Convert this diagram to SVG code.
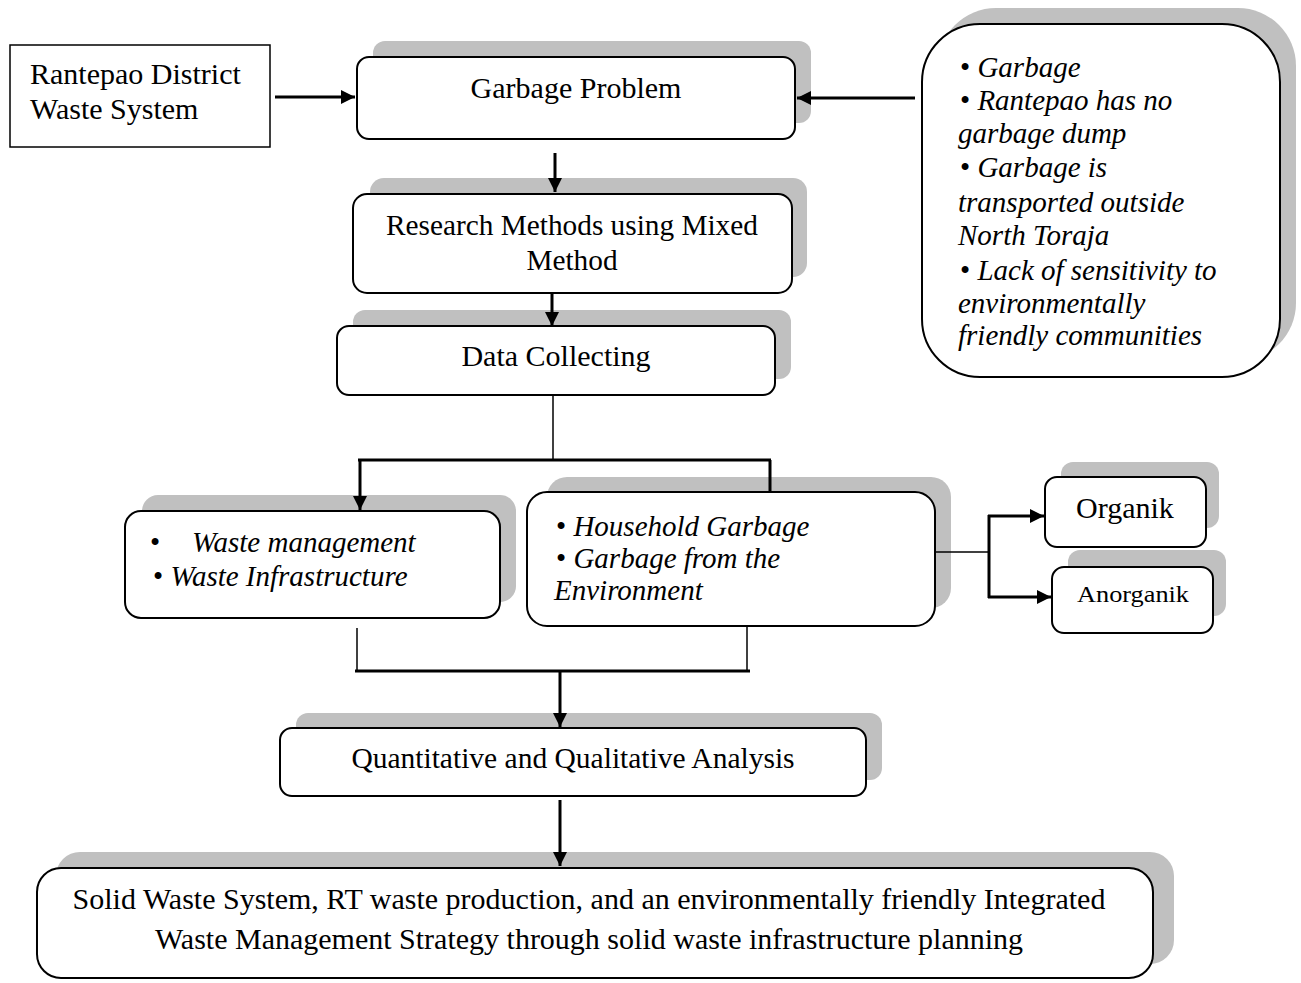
<svg xmlns="http://www.w3.org/2000/svg" width="1301" height="983" viewBox="0 0 1301 983">
<style>
  .sh { fill: #c0c0c0; stroke: none; }
  .bx { fill: #ffffff; stroke: #000000; stroke-width: 2; }
  .t { font-family: "Liberation Serif", "Times New Roman", serif; font-size: 30px; fill: #000; }
  .s29 { font-size: 29px; }
  .i { font-style: italic; }
  .c { text-anchor: middle; }
  .ln { stroke: #000; stroke-width: 3; fill: none; }
  .thin { stroke: #000; stroke-width: 1.5; fill: none; }
</style>
<defs>
  <marker id="ah" markerUnits="userSpaceOnUse" markerWidth="14" markerHeight="14" refX="14" refY="7" orient="auto">
    <path d="M0,0 L14,7 L0,14 z" fill="#000"/>
  </marker>
</defs>
<rect width="1301" height="983" fill="#fff"/>

<g id="rantepao">
  <rect class="bx" x="10" y="45" width="260" height="102" style="stroke-width:1.5"/>
  <text class="t" x="30" y="84">Rantepao District</text>
  <text class="t" x="30" y="119">Waste System</text>
</g>

<g id="garbage-problem">
  <rect class="sh" x="373" y="41" width="438" height="82" rx="12"/>
  <rect class="bx" x="357" y="57" width="438" height="82" rx="12"/>
  <text class="t c" x="576" y="98">Garbage Problem</text>
</g>

<g id="issues">
  <rect class="sh" x="938" y="8" width="358" height="353" rx="58"/>
  <rect class="bx" x="922" y="24" width="358" height="353" rx="58"/>
  <text class="t s29">
    <tspan x="960" y="77">• <tspan class="i">Garbage</tspan></tspan>
    <tspan x="960" y="110">• <tspan class="i">Rantepao has no</tspan></tspan>
    <tspan class="i" x="958" y="143">garbage dump</tspan>
    <tspan x="960" y="177">• <tspan class="i">Garbage is</tspan></tspan>
    <tspan class="i" x="958" y="212">transported outside</tspan>
    <tspan class="i" x="958" y="245">North Toraja</tspan>
    <tspan x="960" y="280">• <tspan class="i">Lack of sensitivity to</tspan></tspan>
    <tspan class="i" x="958" y="313">environmentally</tspan>
    <tspan class="i" x="958" y="345">friendly communities</tspan>
  </text>
</g>

<g id="research">
  <rect class="sh" x="370" y="178" width="437" height="99" rx="14"/>
  <rect class="bx" x="353" y="194" width="439" height="99" rx="14"/>
  <text class="t c" style="font-size:29.3px" x="572" y="235">Research Methods using Mixed</text>
  <text class="t c" style="font-size:29.3px" x="572" y="270">Method</text>
</g>

<g id="data-collecting">
  <rect class="sh" x="353" y="310" width="438" height="69" rx="12"/>
  <rect class="bx" x="337" y="326" width="438" height="69" rx="12"/>
  <text class="t c" x="556" y="366">Data Collecting</text>
</g>

<g id="waste-mgmt">
  <rect class="sh" x="142" y="495" width="374" height="107" rx="16"/>
  <rect class="bx" x="125" y="511" width="375" height="107" rx="16"/>
  <text class="t s29" x="150" y="552">•</text>
  <text class="t s29 i" x="192" y="552">Waste management</text>
  <text class="t s29" x="153" y="586">• <tspan class="i">Waste Infrastructure</tspan></text>
</g>

<g id="household">
  <rect class="sh" x="547" y="477" width="404" height="131" rx="20"/>
  <rect class="bx" x="527" y="492" width="408" height="134" rx="20"/>
  <text class="t s29" x="556" y="536">• <tspan class="i">Household Garbage</tspan></text>
  <text class="t s29" x="556" y="568">• <tspan class="i">Garbage from the</tspan></text>
  <text class="t s29 i" x="554" y="600">Environment</text>
</g>

<g id="organik">
  <rect class="sh" x="1061" y="462" width="158" height="66" rx="12"/>
  <rect class="bx" x="1045" y="477" width="161" height="70" rx="12"/>
  <text class="t c" x="1125" y="518">Organik</text>
</g>

<g id="anorganik">
  <rect class="sh" x="1068" y="550" width="158" height="66" rx="12"/>
  <rect class="bx" x="1052" y="567" width="161" height="66" rx="12"/>
  <text class="t" x="1077" y="602" style="font-size:23px" textLength="112" lengthAdjust="spacingAndGlyphs">Anorganik</text>
</g>

<g id="analysis">
  <rect class="sh" x="296" y="713" width="586" height="67" rx="12"/>
  <rect class="bx" x="280" y="728" width="586" height="68" rx="12"/>
  <text class="t c" style="font-size:29.5px" x="573" y="768">Quantitative and Qualitative Analysis</text>
</g>

<g id="result">
  <rect class="sh" x="56" y="852" width="1118" height="112" rx="24"/>
  <rect class="bx" x="37" y="868" width="1116" height="110" rx="24"/>
  <text class="t c" x="589" y="909">Solid Waste System, RT waste production, and an environmentally friendly Integrated</text>
  <text class="t c" x="589" y="949">Waste Management Strategy through solid waste infrastructure planning</text>
</g>

<g id="connectors">
  <line class="ln" x1="275" y1="97" x2="355" y2="97" marker-end="url(#ah)"/>
  <line class="ln" x1="915" y1="98" x2="797" y2="98" marker-end="url(#ah)"/>
  <line class="ln" x1="555" y1="153" x2="555" y2="192" marker-end="url(#ah)"/>
  <line class="ln" x1="552" y1="294" x2="552" y2="326" marker-end="url(#ah)"/>
  <line class="thin" x1="553" y1="395" x2="553" y2="460"/>
  <line class="ln" x1="358" y1="460" x2="771" y2="460"/>
  <line class="ln" x1="360" y1="460" x2="360" y2="510" marker-end="url(#ah)"/>
  <line class="ln" x1="770" y1="460" x2="770" y2="492"/>
  <line class="thin" x1="935" y1="552" x2="990" y2="552"/>
  <line class="ln" x1="989" y1="515" x2="989" y2="598"/>
  <line class="ln" x1="988" y1="516" x2="1044" y2="516" marker-end="url(#ah)"/>
  <line class="ln" x1="988" y1="597" x2="1051" y2="597" marker-end="url(#ah)"/>
  <line class="thin" x1="357" y1="628" x2="357" y2="671"/>
  <line class="thin" x1="747" y1="627" x2="747" y2="671"/>
  <line class="ln" x1="355" y1="671" x2="750" y2="671"/>
  <line class="ln" x1="560" y1="671" x2="560" y2="727" marker-end="url(#ah)"/>
  <line class="ln" x1="560" y1="800" x2="560" y2="866" marker-end="url(#ah)"/>
</g>
</svg>
